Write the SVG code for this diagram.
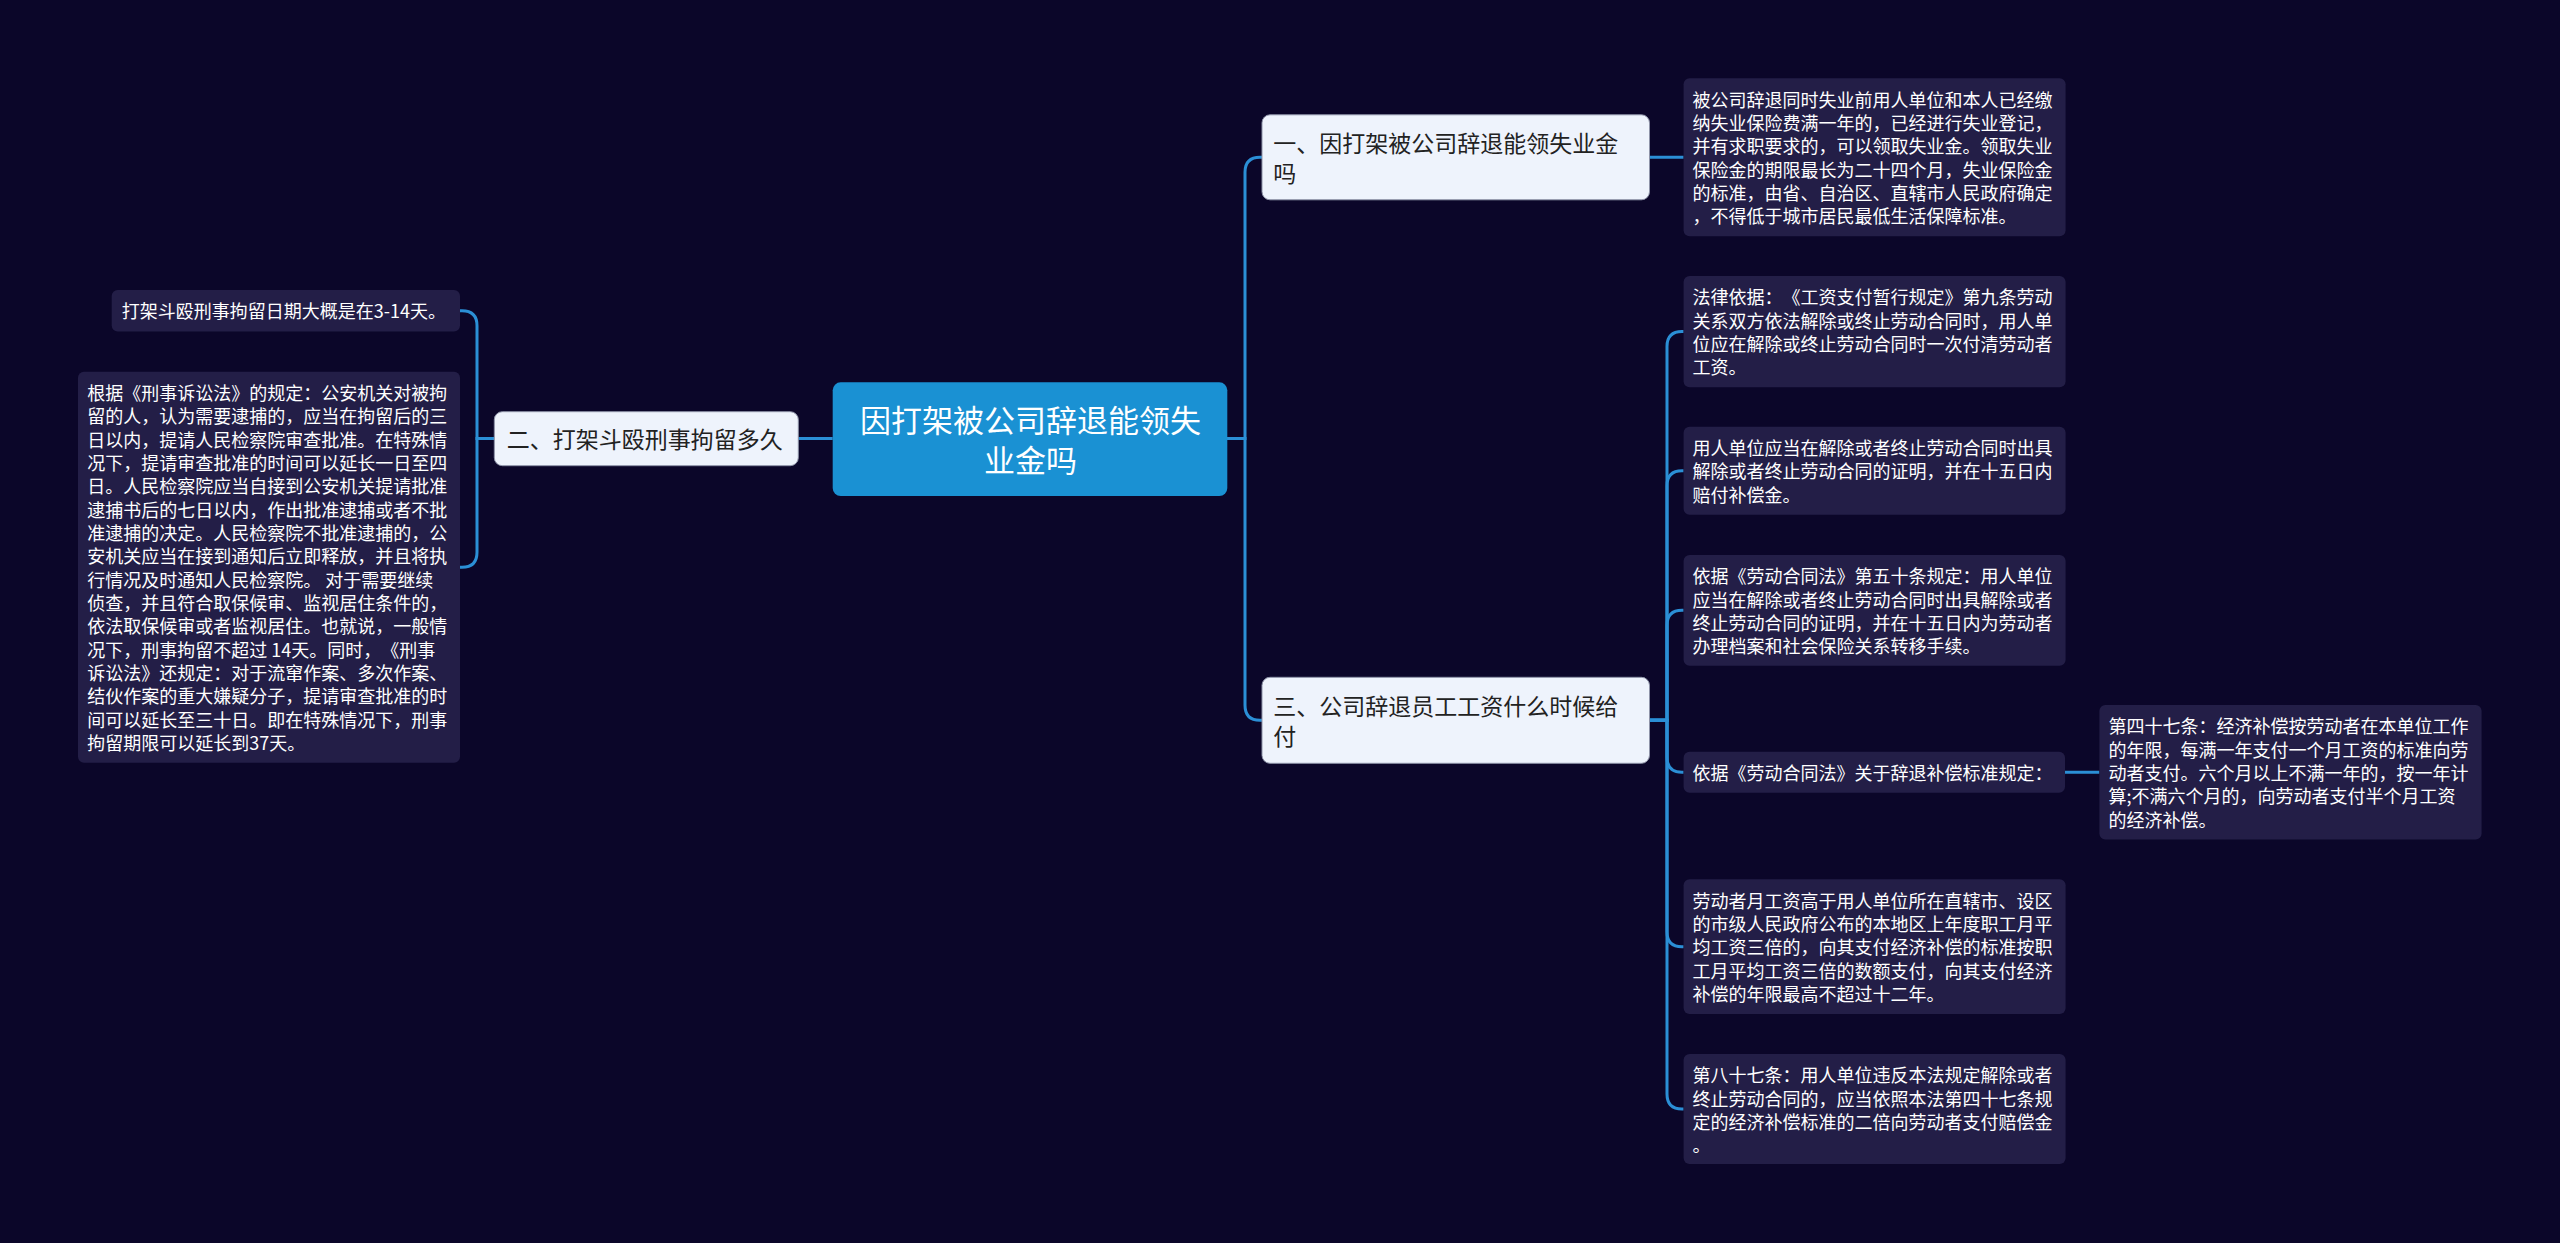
<svg xmlns="http://www.w3.org/2000/svg" width="2560" height="1243" viewBox="0 0 2560 1243">
<defs>
<style>
.bg{fill:#0b0629}
.root rect{fill:#1a91d3}
.root text{fill:#ffffff;font-size:31px;text-anchor:middle}
.l1 rect{fill:#eef3fc;stroke:#8e93a8;stroke-width:1}
.l1 text{fill:#222222;font-size:23px}
.leaf rect{fill:#231e47}
.leaf text{fill:#ffffff;font-size:18px}
text{font-family:"Noto Sans CJK SC","Noto Sans",sans-serif;text-spacing-trim:space-all;font-feature-settings:"halt" 0,"chws" 0}
.conn path{fill:none;stroke:#2b8fd6;stroke-width:3}
</style>
</defs>
<rect class="bg" x="0" y="0" width="2560" height="1243"/>
<g class="conn" id="connectors">
<path d="M798.3 438.5 H832.7"/>
<path d="M494.3 438.5 H477 V325.8 Q477 310.8 462 310.8 H460"/>
<path d="M494.3 438.5 H477 V552.2 Q477 567.2 462 567.2 H460"/>
<path d="M1227 438.5 H1245 V172.3 Q1245 157.3 1260 157.3 H1262"/>
<path d="M1227 438.5 H1245 V705.3 Q1245 720.3 1260 720.3 H1262"/>
<path d="M1649.5 157.3 H1683.6"/>
<path d="M1649.5 720.3 H1667 V346.6 Q1667 331.6 1682 331.6 H1683.6"/>
<path d="M1649.5 720.3 H1667 V485.8 Q1667 470.8 1682 470.8 H1683.6"/>
<path d="M1649.5 720.3 H1667 V625.3 Q1667 610.3 1682 610.3 H1683.6"/>
<path d="M1649.5 720.3 H1667 V757.2 Q1667 772.2 1682 772.2 H1683.6"/>
<path d="M1649.5 720.3 H1667 V931.7 Q1667 946.7 1682 946.7 H1683.6"/>
<path d="M1649.5 720.3 H1667 V1094 Q1667 1109 1682 1109 H1683.6"/>
<path d="M2065 772.2 H2099.4"/>
</g>
<g class="root" id="node-root">
<rect x="832.7" y="382.3" width="394.6" height="113.7" rx="8"/>
<text x="1030.5" y="431.5">因打架被公司辞退能领失</text>
<text x="1030.5" y="471.5">业金吗</text>
</g>
<g class="l1" id="node-2">
<rect x="494.3" y="411.7" width="304" height="54" rx="8"/>
<text x="506.7" y="447.5">二、打架斗殴刑事拘留多久</text>
</g>
<g class="l1" id="node-1">
<rect x="1262" y="114.8" width="387.5" height="85" rx="8"/>
<text x="1273.3" y="151.7">一、因打架被公司辞退能领失业金</text>
<text x="1273.3" y="181.7">吗</text>
</g>
<g class="l1" id="node-3">
<rect x="1262" y="677.3" width="387.5" height="86" rx="8"/>
<text x="1273.3" y="715">三、公司辞退员工工资什么时候给</text>
<text x="1273.3" y="745">付</text>
</g>
<g class="leaf" id="leaf-2a">
<rect x="111.7" y="290" width="348.3" height="41.5" rx="6"/>
<text x="121.7" y="318.3">打架斗殴刑事拘留日期大概是在3-14天。</text>
</g>
<g class="leaf" id="leaf-2b">
<rect x="78" y="371.7" width="382" height="391" rx="6"/>
<text x="87.3" y="400">根据《刑事诉讼法》的规定：公安机关对被拘</text>
<text x="87.3" y="423.3">留的人，认为需要逮捕的，应当在拘留后的三</text>
<text x="87.3" y="446.7">日以内，提请人民检察院审查批准。在特殊情</text>
<text x="87.3" y="470">况下，提请审查批准的时间可以延长一日至四</text>
<text x="87.3" y="493.3">日。人民检察院应当自接到公安机关提请批准</text>
<text x="87.3" y="516.7">逮捕书后的七日以内，作出批准逮捕或者不批</text>
<text x="87.3" y="540">准逮捕的决定。人民检察院不批准逮捕的，公</text>
<text x="87.3" y="563.3">安机关应当在接到通知后立即释放，并且将执</text>
<text x="87.3" y="586.7">行情况及时通知人民检察院。 对于需要继续</text>
<text x="87.3" y="610">侦查，并且符合取保候审、监视居住条件的，</text>
<text x="87.3" y="633.3">依法取保候审或者监视居住。也就说，一般情</text>
<text x="87.3" y="656.7">况下，刑事拘留不超过 14天。同时，《刑事</text>
<text x="87.3" y="680">诉讼法》还规定：对于流窜作案、多次作案、</text>
<text x="87.3" y="703.3">结伙作案的重大嫌疑分子，提请审查批准的时</text>
<text x="87.3" y="726.7">间可以延长至三十日。即在特殊情况下，刑事</text>
<text x="87.3" y="750">拘留期限可以延长到37天。</text>
</g>
<g class="leaf" id="leaf-1a">
<rect x="1683.6" y="78.3" width="382" height="158" rx="6"/>
<text x="1692.6" y="106.6">被公司辞退同时失业前用人单位和本人已经缴</text>
<text x="1692.6" y="129.9">纳失业保险费满一年的，已经进行失业登记，</text>
<text x="1692.6" y="153.3">并有求职要求的，可以领取失业金。领取失业</text>
<text x="1692.6" y="176.6">保险金的期限最长为二十四个月，失业保险金</text>
<text x="1692.6" y="199.9">的标准，由省、自治区、直辖市人民政府确定</text>
<text x="1692.6" y="223.3">，不得低于城市居民最低生活保障标准。</text>
</g>
<g class="leaf" id="leaf-3a">
<rect x="1683.6" y="276" width="382" height="111.3" rx="6"/>
<text x="1692.6" y="304.3">法律依据：《工资支付暂行规定》第九条劳动</text>
<text x="1692.6" y="327.6">关系双方依法解除或终止劳动合同时，用人单</text>
<text x="1692.6" y="351">位应在解除或终止劳动合同时一次付清劳动者</text>
<text x="1692.6" y="374.3">工资。</text>
</g>
<g class="leaf" id="leaf-3b">
<rect x="1683.6" y="426.7" width="382" height="88" rx="6"/>
<text x="1692.6" y="455">用人单位应当在解除或者终止劳动合同时出具</text>
<text x="1692.6" y="478.3">解除或者终止劳动合同的证明，并在十五日内</text>
<text x="1692.6" y="501.7">赔付补偿金。</text>
</g>
<g class="leaf" id="leaf-3c">
<rect x="1683.6" y="555" width="382" height="110.7" rx="6"/>
<text x="1692.6" y="583.3">依据《劳动合同法》第五十条规定：用人单位</text>
<text x="1692.6" y="606.6">应当在解除或者终止劳动合同时出具解除或者</text>
<text x="1692.6" y="630">终止劳动合同的证明，并在十五日内为劳动者</text>
<text x="1692.6" y="653.3">办理档案和社会保险关系转移手续。</text>
</g>
<g class="leaf" id="leaf-3d">
<rect x="1683.6" y="751.7" width="381.4" height="41" rx="6"/>
<text x="1692.6" y="780">依据《劳动合同法》关于辞退补偿标准规定：</text>
</g>
<g class="leaf" id="leaf-3d1">
<rect x="2099.4" y="705" width="382.2" height="134.5" rx="6"/>
<text x="2108.4" y="733.3">第四十七条：经济补偿按劳动者在本单位工作</text>
<text x="2108.4" y="756.6">的年限，每满一年支付一个月工资的标准向劳</text>
<text x="2108.4" y="780">动者支付。六个月以上不满一年的，按一年计</text>
<text x="2108.4" y="803.3">算;不满六个月的，向劳动者支付半个月工资</text>
<text x="2108.4" y="826.6">的经济补偿。</text>
</g>
<g class="leaf" id="leaf-3e">
<rect x="1683.6" y="879.3" width="382" height="134.7" rx="6"/>
<text x="1692.6" y="907.6">劳动者月工资高于用人单位所在直辖市、设区</text>
<text x="1692.6" y="930.9">的市级人民政府公布的本地区上年度职工月平</text>
<text x="1692.6" y="954.3">均工资三倍的，向其支付经济补偿的标准按职</text>
<text x="1692.6" y="977.6">工月平均工资三倍的数额支付，向其支付经济</text>
<text x="1692.6" y="1000.9">补偿的年限最高不超过十二年。</text>
</g>
<g class="leaf" id="leaf-3f">
<rect x="1683.6" y="1054" width="382" height="110" rx="6"/>
<text x="1692.6" y="1082.3">第八十七条：用人单位违反本法规定解除或者</text>
<text x="1692.6" y="1105.6">终止劳动合同的，应当依照本法第四十七条规</text>
<text x="1692.6" y="1129">定的经济补偿标准的二倍向劳动者支付赔偿金</text>
<text x="1692.6" y="1152.3">。</text>
</g>
</svg>
